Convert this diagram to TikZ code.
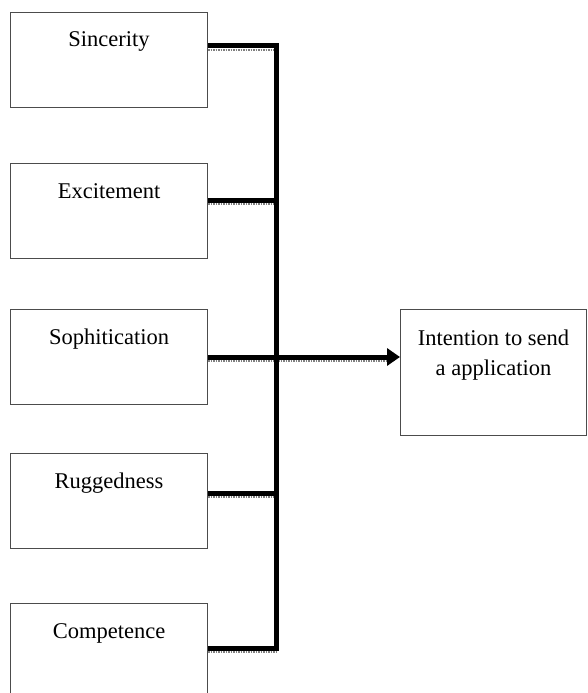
\documentclass[tikz,border=0pt]{standalone}
\usepackage{fontspec}
\setmainfont{Liberation Serif}
\usetikzlibrary{arrows.meta}
\begin{document}
\begin{tikzpicture}
  [x=1pt, y=-1pt,
  factor/.style={draw=black!70, line width=1pt, inner sep=0pt, anchor=north west, minimum width=197pt, text height=34.5pt, text depth=60.5pt, font=\fontsize{22.5}{27}\selectfont},
  target/.style={draw=black!70, line width=1pt, inner sep=0pt, anchor=north west, minimum width=186pt, align=center, text height=66pt, text depth=60pt, font=\fontsize{22.5}{30}\selectfont},
  bus/.style={line width=5pt},
  shade/.style={gray, line width=2pt, dash pattern=on 1.5pt off 1pt, transform canvas={yshift=-4pt}}]

  \useasboundingbox (0,0) rectangle (587,693);

  \node[factor] (sincerity) at (10,12) {Sincerity};
  \node[factor] (excitement) at (10,163) {Excitement};
  \node[factor] (sophitication) at (10,309) {Sophitication};
  \node[factor] (ruggedness) at (10,453) {Ruggedness};
  \node[factor] (competence) at (10,603) {Competence};
  \node[target] (intention) at (400,309) {Intention to send\\a application};

  \coordinate (j1) at (276.5,46);
  \coordinate (j2) at (276.5,200);
  \coordinate (j3) at (276.5,357);
  \coordinate (j4) at (276.5,493);
  \coordinate (j5) at (276.5,648);

  \draw[shade] (j1 -| sincerity.east) -- (j1);
  \draw[shade] (j2 -| excitement.east) -- (j2);
  \draw[shade, shorten >=8pt] (j3 -| sophitication.east) -- (j3 -| intention.west);
  \draw[shade] (j4 -| ruggedness.east) -- (j4);
  \draw[shade] (j5 -| competence.east) -- (j5);

  \draw[bus] (j1 -| sincerity.east) -- (j1) -- (j5) -- (j5 -| competence.east);
  \draw[bus] (j2 -| excitement.east) -- (j2);
  \draw[bus] (j4 -| ruggedness.east) -- (j4);
  \draw[bus, -{Triangle[length=13pt, width=17pt]}] (j3 -| sophitication.east) -- (j3 -| intention.west);

\end{tikzpicture}
\end{document}
